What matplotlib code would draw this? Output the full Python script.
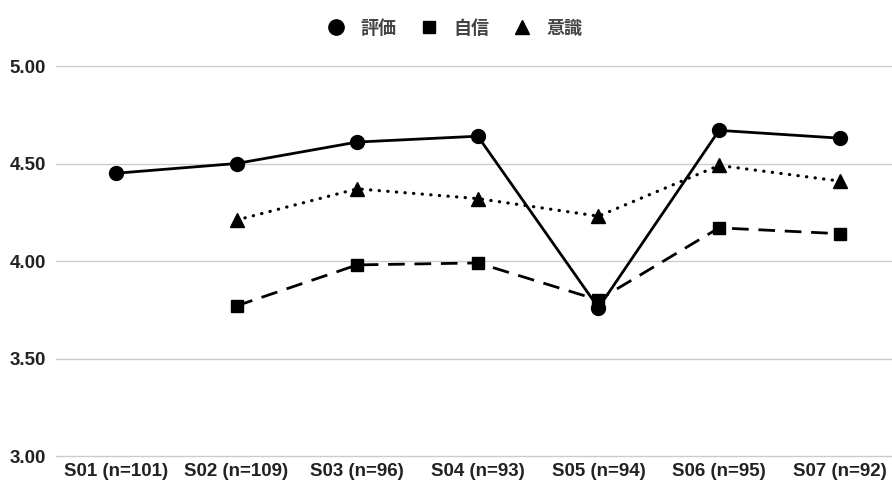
import matplotlib
matplotlib.use("Agg")
import matplotlib.pyplot as plt
from matplotlib.lines import Line2D

categories = ["S01 (n=101)", "S02 (n=109)", "S03 (n=96)", "S04 (n=93)",
              "S05 (n=94)", "S06 (n=95)", "S07 (n=92)"]
hyouka = [4.45, 4.50, 4.61, 4.64, 3.76, 4.67, 4.63]
jishin = [None, 3.77, 3.98, 3.99, 3.80, 4.17, 4.14]
ishiki = [None, 4.21, 4.37, 4.32, 4.23, 4.49, 4.41]
series_names = ["評価", "自信", "意識"]
yticks = [3.00, 3.50, 4.00, 4.50, 5.00]

fig = plt.figure(figsize=(8.92, 4.86), dpi=100)
ax = fig.add_axes([55.6 / 892, 1 - 456 / 486, (900 - 55.6) / 892, (456 - 66) / 486])

x = list(range(len(categories)))

def xs_ys(vals):
    pts = [(i, v) for i, v in zip(x, vals) if v is not None]
    return [p[0] for p in pts], [p[1] for p in pts]

xa, ya = xs_ys(hyouka)
ax.plot(xa, ya, color="black", lw=2, ls="-", marker="o", ms=10, zorder=3, clip_on=False)
xb, yb = xs_ys(jishin)
ax.plot(xb, yb, color="black", lw=2, ls=(0, (6, 3.5)), marker="s", ms=8.5, zorder=3, clip_on=False)
xc, yc = xs_ys(ishiki)
l3, = ax.plot(xc, yc, color="black", lw=2.3, ls=(0, (0.1, 2.6)), marker="^", ms=9.5, zorder=3, clip_on=False)
l3.set_dash_capstyle("round")

ax.set_xlim(-0.5, 6.5)
ax.set_ylim(3.0, 5.0)
ax.set_yticks(yticks)
ax.set_yticklabels([f"{v:.2f}" for v in yticks])
ax.set_xticks(x)
ax.set_xticklabels(categories)
ax.grid(axis="y", color="#cccccc", lw=1)
for gl in ax.get_ygridlines():
    gl.set_clip_on(False)
ax.set_axisbelow(True)
for s in ax.spines.values():
    s.set_visible(False)
ax.tick_params(axis="both", length=0)
ax.tick_params(axis="y", pad=7)
ax.tick_params(axis="x", pad=5)
for lab in ax.get_xticklabels() + ax.get_yticklabels():
    lab.set_fontfamily("Liberation Sans")
    lab.set_fontweight("bold")
    lab.set_fontsize(13.5)
    lab.set_color("#222222")

handles = [
    Line2D([], [], color="black", marker="o", ls="none", ms=11),
    Line2D([], [], color="black", marker="s", ls="none", ms=8.5),
    Line2D([], [], color="black", marker="^", ls="none", ms=9.5),
]
leg = fig.legend(handles, series_names, loc="center", bbox_to_anchor=(455 / 892, 1 - 28 / 486),
                 ncol=3, frameon=False, handlelength=1.0, handletextpad=0.85, columnspacing=1.3,
                 prop={"family": ["Noto Sans CJK JP", "DejaVu Sans"], "size": 13, "weight": "bold"})
for t in leg.get_texts():
    t.set_color("#444444")

fig.savefig("out.png", dpi=100)
